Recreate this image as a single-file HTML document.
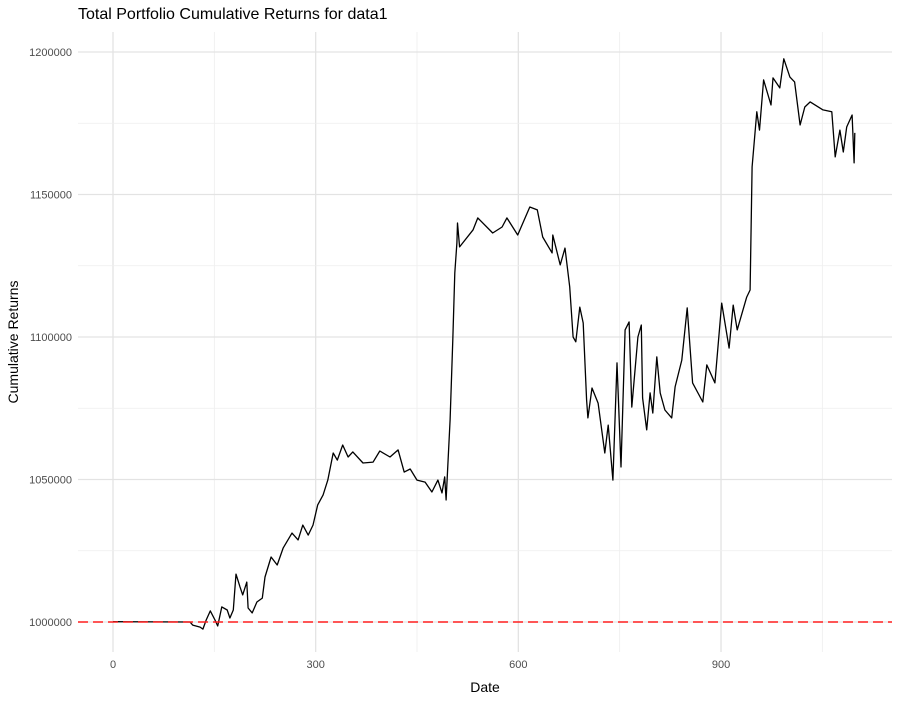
<!DOCTYPE html>
<html><head><meta charset="utf-8"><style>
body{margin:0;background:#fff;font-family:"Liberation Sans",sans-serif}
</style></head><body>
<svg id="chart" width="900" height="700" xmlns="http://www.w3.org/2000/svg" font-family="Liberation Sans, sans-serif">
<text x="78" y="19" font-size="16" fill="#000">Total Portfolio Cumulative Returns for data1</text>
<text x="485" y="692" font-size="14" text-anchor="middle" fill="#000">Date</text>
<text transform="translate(18,342) rotate(-90)" font-size="14" text-anchor="middle" fill="#000">Cumulative Returns</text>
<g id="grid"></g><g id="ticks"></g><g id="marks"></g>
</svg>
<script>
const days=[0,114,118,129,133,138,144,151,155,161,169,173,178,182,188,192,198,200,206,213,221,225,234,243,252,265,274,281,289,296,303,311,318,326,332,340,348,355,370,385,395,410,422,431,440,450,462,472,481,487,491,493,499,503,506,509,510,513,533,540,562,576,583,599,617,628,636,650,651,662,669,676,681,685,691,696,701,703,709,718,728,733,740,746,752,758,764,768,777,782,784,790,795,799,805,810,817,827,832,842,850,858,873,879,891,901,912,918,924,938,943,946,953,957,963,974,977,987,993,1002,1009,1017,1024,1032,1051,1064,1069,1076,1081,1086,1094,1097,1098];
const values=[1000.1,1000,998.9,998.2,997.5,1000.7,1003.9,1000.7,998.6,1005.3,1004.2,1001.4,1004.2,1016.8,1012.3,1009.5,1014.0,1004.9,1003.2,1007.0,1008.4,1015.8,1022.8,1020.0,1026.0,1031.2,1028.8,1034.0,1030.5,1034.0,1041.1,1044.6,1049.8,1059.3,1056.8,1062.1,1057.9,1059.7,1055.8,1056.1,1060.0,1057.9,1060.4,1052.6,1053.7,1049.8,1049.1,1045.6,1049.8,1045.3,1050.9,1042.8,1070.9,1099.0,1122.5,1133.0,1140.0,1131.6,1137.6,1141.8,1136.5,1138.6,1141.8,1135.8,1145.6,1144.6,1135.1,1129.5,1135.8,1125.3,1131.2,1117.6,1100.0,1098.3,1110.5,1104.9,1077.9,1071.6,1082.1,1076.8,1059.3,1069.1,1049.8,1090.9,1054.4,1102.5,1105.3,1075.4,1100.0,1104.2,1078.6,1067.4,1080.4,1073.3,1093.0,1080.4,1074.4,1071.6,1082.5,1091.9,1110.2,1083.9,1077.2,1090.2,1083.9,1111.9,1096.1,1111.2,1102.5,1114.0,1116.5,1159.7,1179.0,1172.6,1190.2,1181.4,1190.9,1187.4,1197.6,1191.2,1189.5,1174.4,1180.7,1182.5,1179.7,1179.0,1163.2,1172.6,1164.9,1173.7,1177.9,1161.1,1171.6];
const xTicks=[0,300,600,900];
const yTicks=[1000000,1050000,1100000,1150000,1200000];
const baseline=1000000;
const NS="http://www.w3.org/2000/svg";
function xs(d){return 113+(d/300)*202.67;}
function ys(v){return 622-(v-1000000)*0.00285;}
function mk(tag,attrs,parent){const e=document.createElementNS(NS,tag);for(const k in attrs)e.setAttribute(k,attrs[k]);parent.appendChild(e);return e;}
const grid=document.getElementById('grid'),ticks=document.getElementById('ticks'),marks=document.getElementById('marks');
for(let d=-150;d<=1200;d+=150){const x=xs(d);if(x<78||x>892)continue;const major=d%300===0;
 const l=mk('line',{x1:x,x2:x,y1:32,y2:652,stroke:major?'#e3e3e3':'#eeeeee','stroke-width':major?1.3:0.8},grid);
 
 }
for(let v=975000;v<=1225000;v+=25000){const y=ys(v);if(y<32||y>652)continue;const major=v%50000===0;
 const l=mk('line',{x1:78,x2:892,y1:y,y2:y,stroke:major?'#e3e3e3':'#eeeeee','stroke-width':major?1.3:0.8},grid);
 
 }
xTicks.forEach(t=>{const e=mk('text',{x:xs(t),y:668,'font-size':11,fill:'#4d4d4d','text-anchor':'middle'},ticks);e.textContent=t;
 
 });
yTicks.forEach(t=>{const e=mk('text',{x:72,y:ys(t)+4,'font-size':11,fill:'#4d4d4d','text-anchor':'end'},ticks);e.textContent=t;
 
 });
const pts=days.map((d,i)=>xs(d).toFixed(1)+','+ys(values[i]*1000).toFixed(1)).join(' ');
const pl=mk('polyline',{points:pts,fill:'none',stroke:'#000','stroke-width':1.3,'stroke-linejoin':'round'},marks);


const bl=mk('line',{x1:78,x2:892,y1:ys(baseline),y2:ys(baseline),stroke:'#ff2020','stroke-width':1.6,'stroke-dasharray':'10,5'},marks);


</script>
</body></html>
